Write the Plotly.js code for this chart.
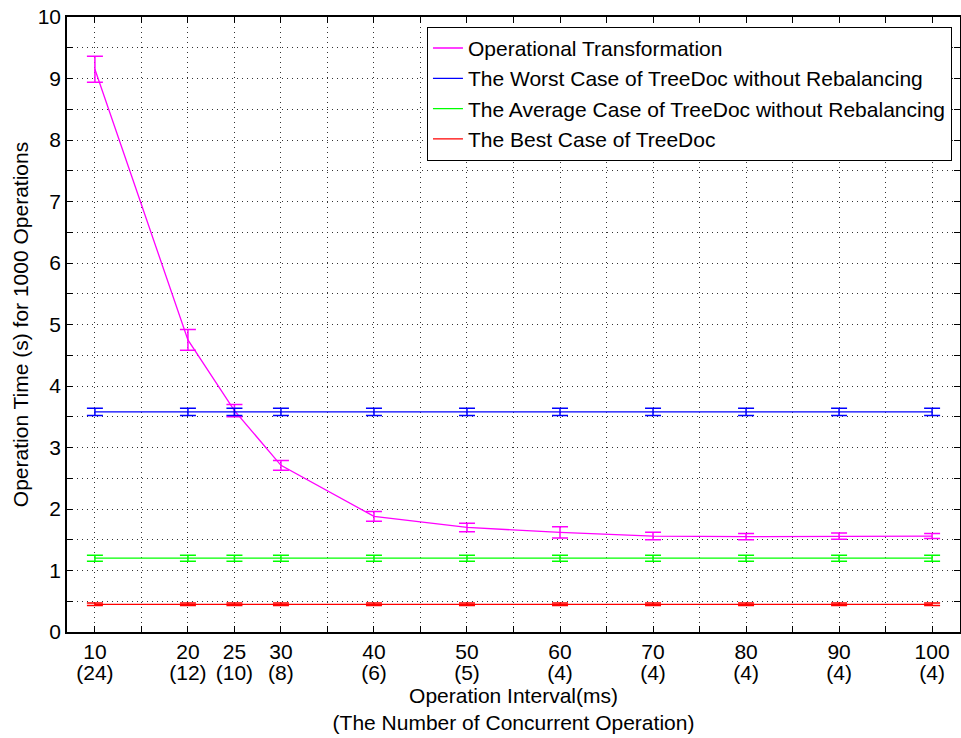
<!DOCTYPE html>
<html><head><meta charset="utf-8">
<script src="https://cdn.plot.ly/plotly-3.0.1.min.js"></script>
<style>body{margin:0;background:#fff}#c{width:961px;height:738px}</style>
</head><body><div id="c"></div>
<script>
const intervals = [10, 20, 25, 30, 40, 50, 60, 70, 80, 90, 100];
const concurrent = [24, 12, 10, 8, 6, 5, 4, 4, 4, 4, 4];
const otMean = [9.15, 4.75, 3.6, 2.71, 1.88, 1.7, 1.62, 1.56, 1.55, 1.56, 1.56];
const otErr = [0.21, 0.17, 0.1, 0.08, 0.08, 0.07, 0.09, 0.06, 0.05, 0.05, 0.04];
const worstMean = [3.58, 3.58, 3.58, 3.58, 3.58, 3.58, 3.58, 3.58, 3.58, 3.58, 3.58];
const worstErr = [0.06, 0.06, 0.06, 0.06, 0.06, 0.06, 0.06, 0.06, 0.06, 0.06, 0.06];
const avgMean = [1.2, 1.2, 1.2, 1.2, 1.2, 1.2, 1.2, 1.2, 1.2, 1.2, 1.2];
const avgErr = [0.05, 0.05, 0.05, 0.05, 0.05, 0.05, 0.05, 0.05, 0.05, 0.05, 0.05];
const bestMean = [0.45, 0.45, 0.45, 0.45, 0.45, 0.45, 0.45, 0.45, 0.45, 0.45, 0.45];
const bestErr = [0.02, 0.02, 0.02, 0.02, 0.02, 0.02, 0.02, 0.02, 0.02, 0.02, 0.02];
const names = ['Operational Transformation', 'The Worst Case of TreeDoc without Rebalancing',
  'The Average Case of TreeDoc without Rebalancing', 'The Best Case of TreeDoc'];
const colors = ['#ff00ff', '#0000ff', '#00ff00', '#ff0000'];
const means = [otMean, worstMean, avgMean, bestMean];
const errs = [otErr, worstErr, avgErr, bestErr];

const traces = means.map((m, i) => ({
  x: intervals, y: m, type: 'scatter', mode: 'lines', name: names[i],
  line: {color: colors[i], width: 1.3},
  error_y: {type: 'data', array: errs[i], visible: true, color: colors[i], thickness: 1.5, width: 8}
}));
// invisible helper trace carrying the second tick-label row axis
traces.push({x: intervals, y: otMean, xaxis: 'x2', type: 'scatter', mode: 'lines',
  line: {width: 0, color: 'rgba(0,0,0,0)'}, showlegend: false, hoverinfo: 'skip'});

const tickText2 = concurrent.map(c => '(' + c + ')');
const font = {family: 'Liberation Sans, Arial, sans-serif', size: 21, color: '#000'};
const gridDash = '1px,4px';

const layout = {
  width: 961, height: 738,
  margin: {l: 67, r: 1, t: 17, b: 106},
  paper_bgcolor: '#fff', plot_bgcolor: '#fff',
  font: font,
  showlegend: true,
  legend: {x: 0.991, xanchor: 'right', y: 0.984, yanchor: 'top', bgcolor: '#fff',
    bordercolor: '#000', borderwidth: 1, font: font, tracegroupgap: 0},
  xaxis: {
    range: [7, 103], tickmode: 'array', tickvals: intervals, ticktext: intervals.map(String),
    showline: true, linecolor: '#000', linewidth: 1.5, mirror: 'ticks',
    ticks: 'inside', ticklen: 6, tickcolor: '#000',
    showgrid: true, gridcolor: '#333', griddash: gridDash, gridwidth: 1,
    minor: {dtick: 5, tick0: 0, ticks: 'inside', ticklen: 6, tickcolor: '#000', showgrid: true, gridcolor: '#333', griddash: gridDash},
    zeroline: false, tickfont: font
  },
  xaxis2: {
    overlaying: 'x', matches: 'x', anchor: 'y', side: 'bottom',
    range: [7, 103], tickmode: 'array', tickvals: intervals, ticktext: tickText2,
    showline: false, ticks: '', showgrid: false, zeroline: false,
    ticklabelstandoff: 26, tickfont: font,
    title: {text: 'Operation Interval(ms)<br>(The Number of Concurrent Operation)', font: font, standoff: 0}
  },
  yaxis: {
    range: [0, 10], dtick: 1, tick0: 0,
    showline: true, linecolor: '#000', linewidth: 1.5, mirror: 'ticks',
    ticks: 'inside', ticklen: 6, tickcolor: '#000',
    showgrid: true, gridcolor: '#333', griddash: gridDash, gridwidth: 1,
    minor: {dtick: 0.5, tick0: 0, ticks: 'inside', ticklen: 6, tickcolor: '#000', showgrid: true, gridcolor: '#333', griddash: gridDash},
    zeroline: false, tickfont: font,
    title: {text: 'Operation Time (s) for 1000 Operations', font: font, standoff: 3}
  }
};
Plotly.newPlot('c', traces, layout, {displayModeBar: false});
</script></body></html>
